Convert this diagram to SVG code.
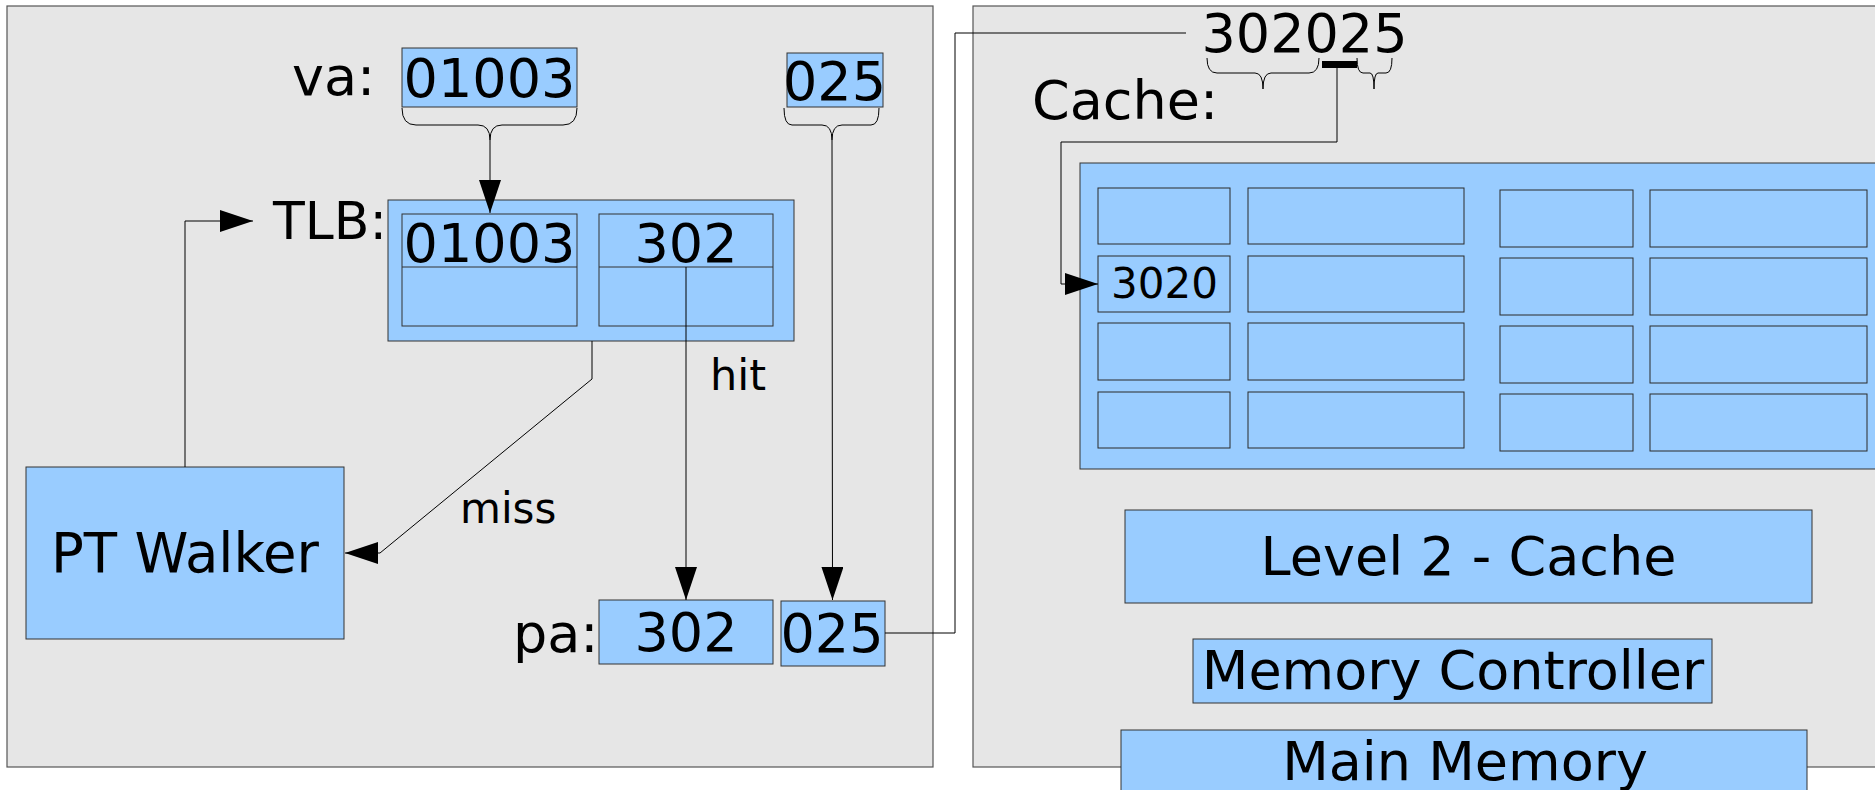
<svg xmlns="http://www.w3.org/2000/svg" width="1875" height="790" viewBox="0 0 1875 790">
<defs>
<style>
.panel{fill:#e6e6e6;stroke:#555;stroke-width:1.2}
.box{fill:#99ccff;stroke:#333;stroke-width:1}
.cell{fill:#99ccff;stroke:#2b2b2b;stroke-width:1}
.t{font-family:"DejaVu Sans","Liberation Sans",sans-serif;fill:#000}
.big{font-size:54px}
.lab{font-size:54px}
.sm{font-size:42px}
.conn{fill:none;stroke:#000;stroke-width:1}
.brace{fill:none;stroke:#000;stroke-width:1}
</style>
<marker id="ah" markerUnits="userSpaceOnUse" markerWidth="34" markerHeight="22" refX="33" refY="11" orient="auto" viewBox="0 0 34 22">
<path d="M0,0 L33,11 L0,22 z" fill="#000"/>
</marker>
</defs>
<rect width="1875" height="790" fill="#fff"/>
<g id="left-panel">
<rect class="panel" x="7" y="6" width="926" height="761"/>
</g>
<g id="right-panel">
<rect class="panel" x="973" y="6" width="910" height="761"/>
</g>
<g id="va-label"><text class="t big" x="292" y="95">va:</text></g>
<g id="va-vpn">
<rect class="box" x="402" y="48" width="175" height="59"/>
<text class="t big" x="489.5" y="97" text-anchor="middle">01003</text>
</g>
<g id="va-offset">
<rect class="box" x="787" y="53" width="96" height="54"/>
<text class="t big" x="834.5" y="100" text-anchor="middle">025</text>
</g>
<g id="braces">
<path class="brace" d="M402,108 Q402,125 416,125 H478 Q490,125 490,140 Q490,125 502,125 H563 Q577,125 577,108"/>
<path class="brace" d="M784,108 Q784,125 792,125 H822 Q832,125 832,140 Q832,125 842,125 H871 Q879,125 879,108"/>
<path class="brace" d="M1207,58 Q1207,73 1217,73 H1255 Q1263,73 1263,89 Q1263,73 1271,73 H1309 Q1319,73 1319,58"/>
<path class="brace" d="M1357,58 Q1357,73 1363,73 H1370 Q1374,73 1374,89 Q1374,73 1378,73 H1386 Q1392,73 1392,58"/>
<rect x="1322" y="61" width="35" height="7" fill="#000"/>
</g>
<g id="tlb-label"><text class="t" style="font-size:52px" x="273" y="239">TLB:</text></g>
<g id="tlb">
<rect class="box" x="388" y="200" width="406" height="141"/>
<rect class="box" x="402" y="214" width="175" height="112"/>
<line x1="402" y1="267" x2="577" y2="267" stroke="#333" stroke-width="1"/>
<rect class="box" x="599" y="214" width="174" height="112"/>
<line x1="599" y1="267" x2="773" y2="267" stroke="#333" stroke-width="1"/>
<text class="t big" x="489.5" y="262" text-anchor="middle">01003</text>
<text class="t big" x="686" y="262" text-anchor="middle">302</text>
</g>
<g id="pt-walker">
<rect class="box" x="26" y="467" width="318" height="172"/>
<text class="t" style="font-size:54.5px" x="185" y="572" text-anchor="middle">PT Walker</text>
</g>
<g id="pa-label"><text class="t big" x="513" y="652">pa:</text></g>
<g id="pa-ppn">
<rect class="box" x="599" y="600" width="174" height="64"/>
<text class="t big" x="686" y="651" text-anchor="middle">302</text>
</g>
<g id="pa-offset">
<rect class="box" x="781" y="601" width="104" height="65"/>
<text class="t big" x="832" y="652" text-anchor="middle">025</text>
</g>
<g id="address"><text class="t big" x="1304.5" y="52" text-anchor="middle">302025</text></g>
<g id="cache-label"><text class="t lab" x="1032" y="119">Cache:</text></g>
<g id="l1-cache">
<rect class="box" x="1080" y="163" width="800" height="306"/>
<rect class="cell" x="1098" y="188" width="132" height="56"/>
<rect class="cell" x="1248" y="188" width="216" height="56"/>
<rect class="cell" x="1098" y="256" width="132" height="56"/>
<rect class="cell" x="1248" y="256" width="216" height="56"/>
<rect class="cell" x="1098" y="323" width="132" height="57"/>
<rect class="cell" x="1248" y="323" width="216" height="57"/>
<rect class="cell" x="1098" y="392" width="132" height="56"/>
<rect class="cell" x="1248" y="392" width="216" height="56"/>
<rect class="cell" x="1500" y="190" width="133" height="57"/>
<rect class="cell" x="1650" y="190" width="217" height="57"/>
<rect class="cell" x="1500" y="258" width="133" height="57"/>
<rect class="cell" x="1650" y="258" width="217" height="57"/>
<rect class="cell" x="1500" y="326" width="133" height="57"/>
<rect class="cell" x="1650" y="326" width="217" height="57"/>
<rect class="cell" x="1500" y="394" width="133" height="57"/>
<rect class="cell" x="1650" y="394" width="217" height="57"/>
<text class="t sm" x="1164.5" y="298" text-anchor="middle">3020</text>
</g>
<g id="l2-cache">
<rect class="box" x="1125" y="510" width="687" height="93"/>
<text class="t lab" x="1468.5" y="575" text-anchor="middle">Level 2 - Cache</text>
</g>
<g id="memory-controller">
<rect class="box" x="1193" y="639" width="519" height="64"/>
<text class="t lab" x="1453" y="689" text-anchor="middle">Memory Controller</text>
</g>
<g id="main-memory">
<rect class="box" x="1121" y="730" width="686" height="80"/>
<text class="t lab" x="1465" y="780" text-anchor="middle">Main Memory</text>
</g>
<g id="connectors">
<path class="conn" d="M490,140 V213" marker-end="url(#ah)"/>
<path class="conn" d="M185,467 V221 H253" marker-end="url(#ah)"/>
<path class="conn" d="M592,341 V379 L380,553 H345" marker-end="url(#ah)"/>
<path class="conn" d="M686,267 V600" marker-end="url(#ah)"/>
<path class="conn" d="M832,140 L832.5,600" marker-end="url(#ah)"/>
<path class="conn" d="M885,633 H955 V33 H1186"/>
<path class="conn" d="M1337,68 V142 H1061 V284 H1098" marker-end="url(#ah)"/>
<text class="t" style="font-size:43px" x="710" y="390">hit</text>
<text class="t sm" x="460" y="523">miss</text>
</g>
</svg>
